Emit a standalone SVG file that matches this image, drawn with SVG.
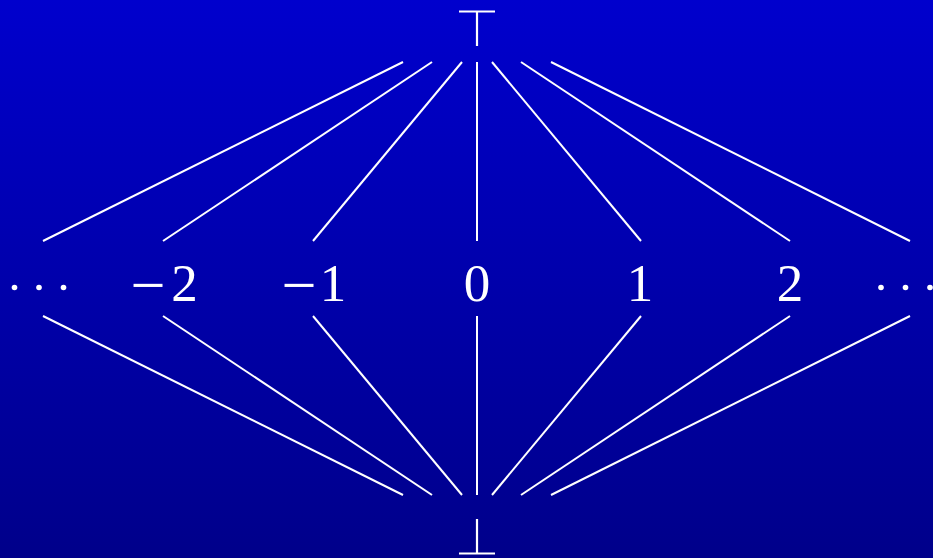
<svg xmlns="http://www.w3.org/2000/svg" width="933" height="558" viewBox="0 0 933 558">
<defs>
<linearGradient id="bg" x1="0" y1="0" x2="0" y2="1">
<stop offset="0" stop-color="#0000CD"/>
<stop offset="1" stop-color="#00008A"/>
</linearGradient>
<style>
.e{stroke:#fff;stroke-width:2;fill:none}
.s{stroke:#fff;stroke-width:2.2;fill:none}
.t{fill:#fff;font-family:"Liberation Serif","DejaVu Serif",serif;font-size:53px;text-anchor:middle}
.m{font-size:62px}
.d{fill:#fff}
</style>
</defs>
<rect width="933" height="558" fill="url(#bg)"/>
<g id="top"><path class="s" d="M459 11.5H495M477 11.5V46"/></g>
<g id="bottom"><path class="s" d="M459 553.5H495M477 553.5V519"/></g>
<g id="ldots"><circle class="d" cx="14.5" cy="287.5" r="2.8"/><circle class="d" cx="39" cy="287.5" r="2.8"/><circle class="d" cx="63.5" cy="287.5" r="2.8"/></g>
<g id="nm2"><text class="t" y="301"><tspan class="m" x="148" y="306">−</tspan><tspan x="184.5" y="301">2</tspan></text></g>
<g id="nm1"><text class="t" y="301"><tspan class="m" x="299" y="306">−</tspan><tspan x="333" y="301">1</tspan></text></g>
<g id="n0"><text class="t" x="477" y="301">0</text></g>
<g id="n1"><text class="t" x="640" y="301">1</text></g>
<g id="n2"><text class="t" x="790" y="301">2</text></g>
<g id="rdots"><circle class="d" cx="881" cy="287.5" r="2.8"/><circle class="d" cx="905.5" cy="287.5" r="2.8"/><circle class="d" cx="930" cy="287.5" r="2.8"/></g>
<g id="edges">
<line class="e" x1="403" y1="62" x2="43" y2="241"/>
<line class="e" x1="432" y1="62" x2="163" y2="241"/>
<line class="e" x1="462" y1="62" x2="313" y2="241"/>
<line class="e" x1="477" y1="62" x2="477" y2="241"/>
<line class="e" x1="492" y1="62" x2="641" y2="241"/>
<line class="e" x1="521" y1="62" x2="790" y2="241"/>
<line class="e" x1="551" y1="62" x2="910" y2="241"/>
<line class="e" x1="43" y1="316" x2="403" y2="495"/>
<line class="e" x1="163" y1="316" x2="432" y2="495"/>
<line class="e" x1="313" y1="316" x2="462" y2="495"/>
<line class="e" x1="477" y1="316" x2="477" y2="495"/>
<line class="e" x1="641" y1="316" x2="492" y2="495"/>
<line class="e" x1="790" y1="316" x2="521" y2="495"/>
<line class="e" x1="910" y1="316" x2="551" y2="495"/>
</g>
</svg>
